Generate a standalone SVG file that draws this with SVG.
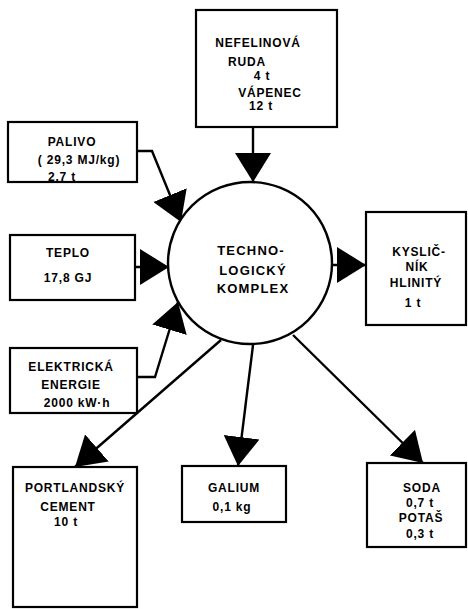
<svg xmlns="http://www.w3.org/2000/svg" width="468" height="609" viewBox="0 0 468 609">
<style>
  .box{fill:#fff;stroke:#000;stroke-width:2.2}
  .circ{fill:#fff;stroke:#000;stroke-width:2.4}
  text{font-family:"Liberation Sans",Arial,sans-serif;font-weight:bold;font-size:12px;fill:#000;text-anchor:middle;letter-spacing:0.8px}
  .big{font-size:13px;letter-spacing:1.2px}
  .conn path{fill:none;stroke:#000;stroke-width:2.4;marker-end:url(#ah)}
</style>
<defs>
  <marker id="ah" markerUnits="userSpaceOnUse" markerWidth="30" markerHeight="36" refX="29" refY="18" orient="auto" viewBox="0 0 30 36">
    <path d="M0,0 L29,18 L0,36 z" fill="#000"/>
  </marker>
</defs>
<rect width="468" height="609" fill="#fff"/>
<g class="conn" id="connectors">
  <path d="M253,127 L253,182"/>
  <path d="M137,151 L152,151 L181,222"/>
  <path d="M135,267 L169,267"/>
  <path d="M137,377 L155,377 L178,302"/>
  <path d="M331,265 L366,265"/>
  <path d="M221,340 L75,467"/>
  <path d="M253,345 L238,466"/>
  <path d="M293,335 L423,463"/>
</g>
<g id="ruda">
  <rect class="box" x="196" y="10" width="141" height="117"/>
  <text x="258" y="47">NEFELINOVÁ</text>
  <text x="247" y="66">RUDA</text>
  <text x="262" y="80">4 t</text>
  <text x="270" y="97">VÁPENEC</text>
  <text x="261" y="110">12 t</text>
</g>
<g id="palivo">
  <rect class="box" x="8" y="122" width="129" height="60"/>
  <text x="72" y="146">PALIVO</text>
  <text x="79" y="164">( 29,3 MJ/kg)</text>
  <text x="62" y="181">2,7 t</text>
</g>
<g id="teplo">
  <rect class="box" x="10" y="235" width="125" height="65"/>
  <text x="68" y="257">TEPLO</text>
  <text x="68" y="282">17,8 GJ</text>
</g>
<g id="energie">
  <rect class="box" x="10" y="348" width="127" height="65"/>
  <text x="71" y="371">ELEKTRICKÁ</text>
  <text x="71" y="389">ENERGIE</text>
  <text x="77" y="407">2000 kW·h</text>
</g>
<g id="komplex">
  <ellipse class="circ" cx="250" cy="263" rx="82" ry="81"/>
  <text class="big" x="251" y="255">TECHNO-</text>
  <text class="big" x="253" y="275">LOGICKÝ</text>
  <text class="big" x="253" y="293">KOMPLEX</text>
</g>
<g id="kyslicnik">
  <rect class="box" x="366" y="212" width="100" height="113"/>
  <text x="419" y="256">KYSLIČ-</text>
  <text x="417" y="271">NÍK</text>
  <text x="416" y="287">HLINITÝ</text>
  <text x="413" y="307">1 t</text>
</g>
<g id="cement">
  <rect class="box" x="13" y="467" width="124" height="140"/>
  <text x="75" y="492">PORTLANDSKÝ</text>
  <text x="68" y="511">CEMENT</text>
  <text x="66" y="526">10 t</text>
</g>
<g id="galium">
  <rect class="box" x="182" y="466" width="104" height="56"/>
  <text x="234" y="492">GALIUM</text>
  <text x="232" y="511">0,1 kg</text>
</g>
<g id="soda">
  <rect class="box" x="367" y="463" width="99" height="84"/>
  <text x="422" y="492">SODA</text>
  <text x="420" y="507">0,7 t</text>
  <text x="421" y="522">POTAŠ</text>
  <text x="420" y="538">0,3 t</text>
</g>
</svg>
